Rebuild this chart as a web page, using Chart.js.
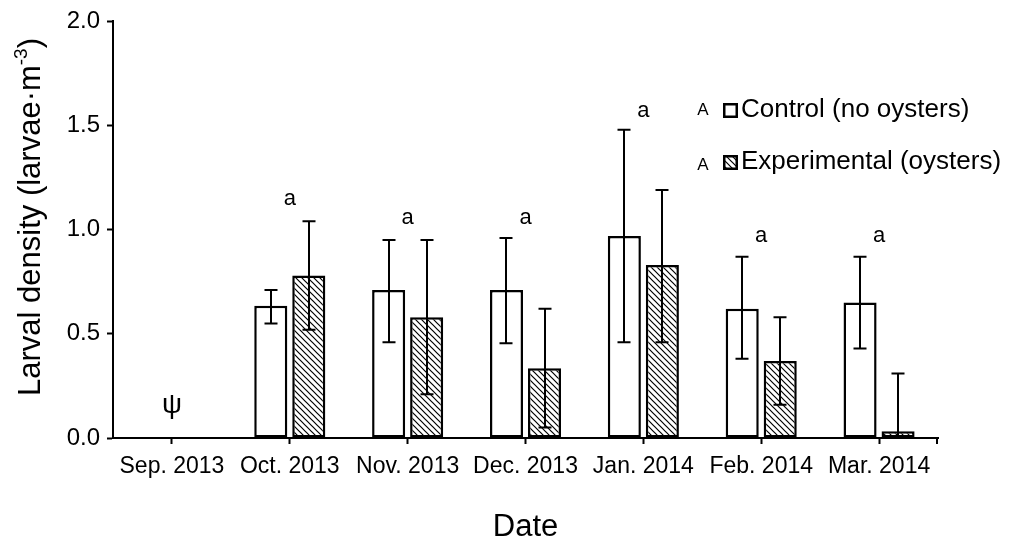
<!DOCTYPE html>
<html>
<head>
<meta charset="utf-8">
<script src="https://cdn.jsdelivr.net/npm/chart.js@4.4.1/dist/chart.umd.min.js"></script>
<style>
  html, body { margin: 0; padding: 0; background: #fff; }
  #wrap { width: 1013px; height: 546px; }
</style>
</head>
<body>
<div id="wrap"><canvas id="densityChart" width="1013" height="546"></canvas></div>
<script>
// Data
const categories = ['Sep. 2013', 'Oct. 2013', 'Nov. 2013', 'Dec. 2013', 'Jan. 2014', 'Feb. 2014', 'Mar. 2014'];
const controlMean = [null, 0.635, 0.71, 0.71, 0.97, 0.62, 0.65];
const controlLow = [null, 0.55, 0.46, 0.455, 0.46, 0.38, 0.43];
const controlHigh = [null, 0.71, 0.95, 0.96, 1.48, 0.87, 0.87];
const expMean = [null, 0.78, 0.58, 0.335, 0.83, 0.37, 0.032];
const expLow = [null, 0.52, 0.21, 0.05, 0.46, 0.16, -0.26];
const expHigh = [null, 1.04, 0.95, 0.62, 1.19, 0.58, 0.31];
const yTicks = [0, 0.5, 1.0, 1.5, 2.0];

// letters above each month (statistical groups), ψ = no sampling
const groupLetters = ['ψ', 'a', 'a', 'a', 'a', 'a', 'a'];
const letterHeight = [0.155, 1.15, 1.055, 1.055, 1.57, 0.97, 0.97];
const legendLetters = ['A', 'A'];

const FONT = 'Liberation Sans, Arial, sans-serif';
const ctx = document.getElementById('densityChart').getContext('2d');

// backslash hatch used for the experimental bars
function makeHatch() {
    const s = 6;
    const c = document.createElement('canvas');
    c.width = s; c.height = s;
    const g = c.getContext('2d');
    g.fillStyle = '#fff';
    g.fillRect(0, 0, s, s);
    g.strokeStyle = '#000';
    g.lineWidth = 1.2;
    g.beginPath();
    g.moveTo(-1, -1); g.lineTo(s + 1, s + 1);
    g.moveTo(-1, s - 1); g.lineTo(1, s + 1);
    g.moveTo(s - 1, -1); g.lineTo(s + 1, 1);
    g.stroke();
    return ctx.createPattern(c, 'repeat');
}
const hatch = makeHatch();

// error bars, letters, y title and legend
const extras = {
    id: 'extras',
    afterDatasetsDraw(chart) {
        const c = chart.ctx;
        const y = chart.scales.y;
        const area = chart.chartArea;
        const errs = [[controlLow, controlHigh], [expLow, expHigh]];

        c.save();
        c.beginPath();
        c.rect(area.left, area.top, area.right - area.left, area.bottom - area.top);
        c.clip();
        c.strokeStyle = '#000';
        c.lineWidth = 2;
        errs.forEach((pair, di) => {
            const meta = chart.getDatasetMeta(di);
            meta.data.forEach((bar, i) => {
                if (pair[0][i] == null) return;
                const x = Math.round(bar.x);
                const y1 = y.getPixelForValue(pair[0][i]);
                const y2 = y.getPixelForValue(pair[1][i]);
                c.beginPath();
                c.moveTo(x, y1); c.lineTo(x, y2);
                c.moveTo(x - 6.5, y1); c.lineTo(x + 6.5, y1);
                c.moveTo(x - 6.5, y2); c.lineTo(x + 6.5, y2);
                c.stroke();
            });
        });
        c.restore();

        // closing tick at the right end of the x axis
        c.save();
        c.strokeStyle = '#000';
        c.lineWidth = 2;
        c.beginPath();
        c.moveTo(area.right - 1, area.bottom);
        c.lineTo(area.right - 1, area.bottom + 6);
        c.stroke();
        c.restore();

        // group letters
        c.save();
        c.fillStyle = '#000';
        c.textAlign = 'center';
        c.textBaseline = 'middle';
        const xs = chart.scales.x;
        groupLetters.forEach((t, i) => {
            c.font = (t === 'ψ' ? '28px ' : '22px ') + FONT;
            c.fillText(t, xs.getPixelForValue(i), y.getPixelForValue(letterHeight[i]));
        });
        c.restore();

        // y axis title with a real superscript
        c.save();
        c.translate(31, 217);
        c.rotate(-Math.PI / 2);
        c.fillStyle = '#000';
        c.textBaseline = 'middle';
        const main = 'Larval density (larvae·m';
        const sup = '-3';
        const tail = ')';
        c.font = '31px ' + FONT;
        const wMain = c.measureText(main).width;
        const wTail = c.measureText(tail).width;
        c.font = '19px ' + FONT;
        const wSup = c.measureText(sup).width;
        let x0 = -(wMain + wSup + wTail) / 2;
        c.font = '31px ' + FONT;
        c.fillText(main, x0, 0);
        c.font = '19px ' + FONT;
        c.fillText(sup, x0 + wMain, -9);
        c.font = '31px ' + FONT;
        c.fillText(tail, x0 + wMain + wSup, 0);
        c.restore();

        // legend
        c.save();
        const rows = [110, 162];
        chart.data.datasets.forEach((ds, i) => {
            const ry = rows[i];
            c.fillStyle = '#000';
            c.font = '17px ' + FONT;
            c.textAlign = 'center';
            c.textBaseline = 'middle';
            c.fillText(legendLetters[i], 703, ry + (i ? 3 : 0));
            c.fillStyle = ds.backgroundColor;
            c.fillRect(723, ry - 7, 15, 15);
            c.strokeStyle = '#000';
            c.lineWidth = 2.5;
            c.strokeRect(724.25, ry - 5.75, 12.5, 12.5);
            c.fillStyle = '#000';
            c.font = '26px ' + FONT;
            c.textAlign = 'left';
            c.fillText(ds.label, 741, ry);
        });
        c.restore();
    }
};

const chart = new Chart(ctx, {
    type: 'bar',
    data: {
        labels: categories,
        datasets: [
            {
                label: 'Control (no oysters)',
                data: controlMean,
                backgroundColor: '#ffffff',
                borderColor: '#000000',
                borderWidth: 2.5,
                borderSkipped: false
            },
            {
                label: 'Experimental (oysters)',
                data: expMean,
                backgroundColor: hatch,
                borderColor: '#000000',
                borderWidth: 2.5,
                borderSkipped: false
            }
        ]
    },
    options: {
        responsive: false,
        animation: false,
        categoryPercentage: 0.645,
        barPercentage: 0.87,
        layout: { padding: { left: 0, right: 75, top: 20, bottom: 0 } },
        plugins: {
            legend: { display: false },
            tooltip: { enabled: false }
        },
        scales: {
            x: {
                offset: true,
                grid: {
                    offset: false,
                    drawOnChartArea: false,
                    drawTicks: true,
                    tickLength: 6,
                    tickColor: '#000',
                    tickWidth: 2
                },
                border: { display: true, color: '#000', width: 2 },
                ticks: {
                    color: '#000',
                    font: { family: FONT, size: 23 },
                    padding: 9,
                    autoSkip: false,
                    maxRotation: 0
                },
                title: {
                    display: true,
                    text: 'Date',
                    color: '#000',
                    font: { family: FONT, size: 31 },
                    padding: { top: 0, bottom: 0 }
                },
                afterFit(s) { s.height = 108; }
            },
            y: {
                min: 0,
                max: 2,
                grid: {
                    drawOnChartArea: false,
                    drawTicks: true,
                    tickLength: 6,
                    tickColor: '#000',
                    tickWidth: 2
                },
                border: { display: true, color: '#000', width: 2 },
                afterBuildTicks(s) { s.ticks = yTicks.map(v => ({ value: v })); },
                ticks: {
                    color: '#000',
                    font: { family: FONT, size: 24 },
                    padding: 7,
                    callback: v => v.toFixed(1)
                },
                afterFit(s) { s.width = 113; }
            }
        }
    },
    plugins: [extras]
});
</script>
</body>
</html>
